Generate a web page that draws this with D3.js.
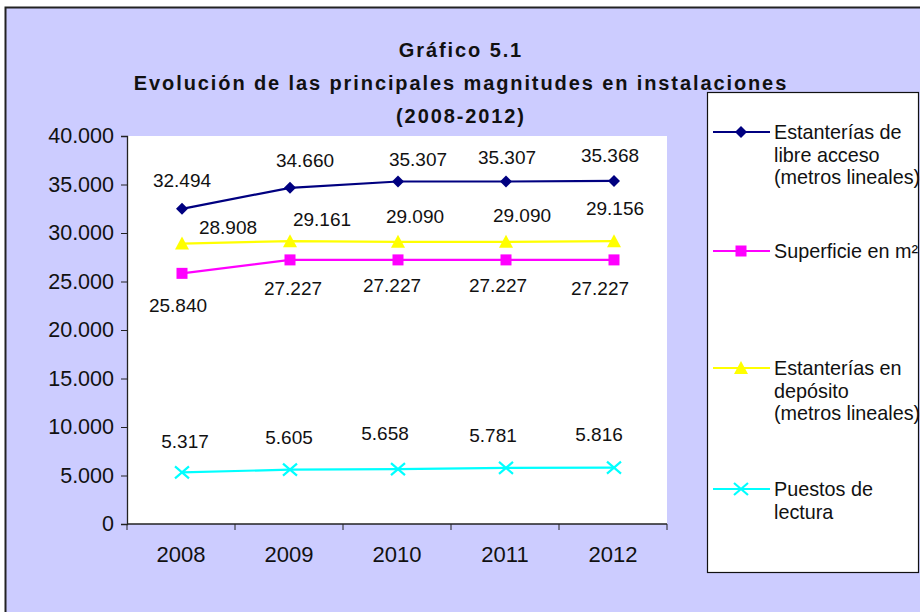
<!DOCTYPE html>
<html><head><meta charset="utf-8">
<script src="https://cdn.jsdelivr.net/npm/d3@7"></script>
<style>body{margin:0;background:#fff}svg{display:block;font-family:"Liberation Sans",Arial,sans-serif}</style>
</head><body><svg id="c" width="920" height="612"></svg>
<script>
const years = ["2008","2009","2010","2011","2012"];
const estanteriasLibre = [32494, 34660, 35307, 35307, 35368];
const superficie = [25840, 27227, 27227, 27227, 27227];
const estanteriasDeposito = [28908, 29161, 29090, 29090, 29156];
const puestosLectura = [5317, 5605, 5658, 5781, 5816];
const yTicks = [0, 5000, 10000, 15000, 20000, 25000, 30000, 35000, 40000];
const titleLines = ["Gráfico 5.1", "Evolución de las principales magnitudes en instalaciones", "(2008-2012)"];

// label nudges (dx, dy) relative to each point, per series
const labelNudges = {
  libre: [[0,-29],[15,-28],[20,-23],[1,-25],[-4,-26]],
  superficie: [[-4,32],[3,28],[-6,25],[-8,25],[-14,28]],
  deposito: [[46,-17],[32,-22],[17,-26],[16,-27],[1,-33]],
  puestos: [[3,-31],[-1,-33],[-13,-36],[-13,-33],[-15,-34]]
};

const series = [
  {key:"libre", name:["Estanterías de","libre acceso","(metros lineales)"], values: estanteriasLibre, color:"#000080", marker:"diamond"},
  {key:"superficie", name:["Superficie en m²"], values: superficie, color:"#FF00FF", marker:"square"},
  {key:"deposito", name:["Estanterías en","depósito","(metros lineales)"], values: estanteriasDeposito, color:"#FFFF00", marker:"triangle"},
  {key:"puestos", name:["Puestos de","lectura"], values: puestosLectura, color:"#00FFFF", marker:"x"}
];

const svg = d3.select("#c");
const loc = d3.formatLocale({decimal:",", thousands:".", grouping:[3], currency:["",""]});
const fmt = loc.format(",d");

// chart background
svg.append("rect").attr("x",5.5).attr("y",7.5).attr("width",930).attr("height",620)
  .attr("fill","#CCCCFF").attr("stroke","#222").attr("stroke-width",2);

// title
svg.append("g").selectAll("text").data(titleLines).join("text")
  .attr("x",461).attr("y",(d,i)=>57+i*33).attr("text-anchor","middle")
  .attr("font-weight","bold").attr("font-size",20).attr("letter-spacing",1.9)
  .attr("fill","#111").text(d=>d);

const L=127, R=667, T=136, B=524;
const x = d3.scaleBand().domain(years).range([L,R]);
const y = d3.scaleLinear().domain([0,40000]).range([B,T]);

svg.append("rect").attr("x",L).attr("y",T).attr("width",R-L).attr("height",B-T).attr("fill","#fff");

// y axis
const ya = svg.append("g").attr("transform",`translate(${L},0)`)
  .call(d3.axisLeft(y).tickValues(yTicks).tickFormat(d=>fmt(d)).tickSize(6).tickPadding(7));
ya.select(".domain").attr("stroke","#222").attr("stroke-width",1.3);
ya.selectAll(".tick line").attr("stroke","#222");
ya.selectAll("text").attr("font-size",21.5).attr("fill","#111").attr("font-family","Liberation Sans, Arial");

// x axis
const xa = svg.append("g").attr("transform",`translate(0,${B})`)
  .call(d3.axisBottom(x).tickSize(0).tickPadding(22));
xa.select(".domain").attr("d",`M${L},0H${R}`).attr("stroke","#222").attr("stroke-width",1.3);
xa.selectAll("text").attr("font-size",22).attr("fill","#111").attr("font-family","Liberation Sans, Arial");
const edges = years.map(d=>x(d)).concat([x(years[years.length-1])+x.bandwidth()]);
xa.selectAll("line.edge").data(edges).join("line").attr("class","edge")
  .attr("x1",d=>d).attr("x2",d=>d).attr("y1",0).attr("y2",6).attr("stroke","#222");

const cx = d => x(d)+x.bandwidth()/2+1;

function drawMarker(g, type, color){
  if(type==="diamond") g.append("path").attr("d","M0,-6L6,0L0,6L-6,0Z").attr("fill",color);
  else if(type==="square") g.append("rect").attr("x",-5.5).attr("y",-5.5).attr("width",11).attr("height",11).attr("fill",color);
  else if(type==="triangle") g.append("path").attr("d","M0,-7L7,6L-7,6Z").attr("fill",color);
  else g.append("path").attr("d","M-7,-6L7,6M-7,6L7,-6").attr("stroke",color).attr("stroke-width",2.2).attr("fill","none");
}

const line = d3.line().x((d,i)=>cx(years[i])).y(d=>y(d));
series.forEach(s=>{
  const g = svg.append("g");
  g.append("path").attr("d",line(s.values)).attr("fill","none").attr("stroke",s.color).attr("stroke-width",2.2);
  s.values.forEach((v,i)=>{
    const m = g.append("g").attr("transform",`translate(${cx(years[i])},${y(v)})`);
    drawMarker(m, s.marker, s.color);
  });
  g.selectAll("text").data(s.values).join("text")
    .attr("x",(v,i)=>cx(years[i])+labelNudges[s.key][i][0])
    .attr("y",(v,i)=>y(v)+labelNudges[s.key][i][1]+7)
    .attr("text-anchor","middle").attr("font-size",19).attr("fill","#111")
    .text(v=>fmt(v));
});

// legend
svg.append("rect").attr("x",707.5).attr("y",92.5).attr("width",211).attr("height",480)
  .attr("fill","#fff").attr("stroke","#111").attr("stroke-width",1.2);
const legY = [132, 251, 368, 489];
series.forEach((s,i)=>{
  const g = svg.append("g").attr("transform",`translate(0,${legY[i]})`);
  g.append("line").attr("x1",713).attr("x2",770).attr("y1",0).attr("y2",0).attr("stroke",s.color).attr("stroke-width",2.2);
  const m = g.append("g").attr("transform","translate(741,0)");
  drawMarker(m, s.marker, s.color);
  g.selectAll("text").data(s.name).join("text")
    .attr("x",774).attr("y",(d,j)=>7+j*22.5).attr("font-size",19.8).attr("fill","#111").text(d=>d);
});
</script></body></html>
